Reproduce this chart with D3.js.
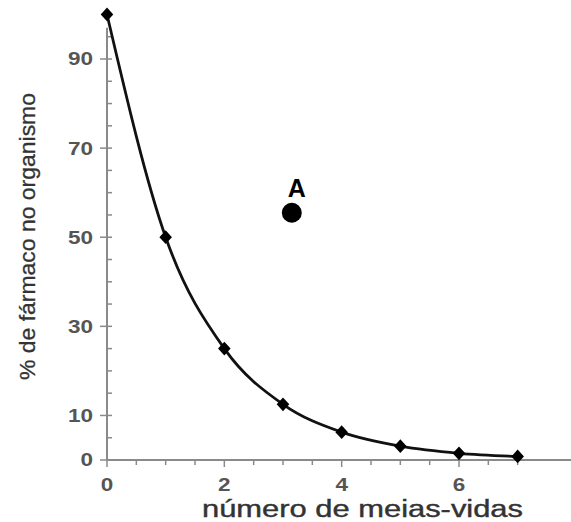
<!DOCTYPE html>
<html><head><meta charset="utf-8">
<script src="https://cdn.jsdelivr.net/npm/d3@7"></script>
<style>body{margin:0;background:#fff}svg{display:block}</style>
</head><body>
<svg id="c" width="571" height="522"></svg>
<script>
const halfLives = [0, 1, 2, 3, 4, 5, 6, 7];
const percentRemaining = [100, 50, 25, 12.5, 6.25, 3.1, 1.5, 0.8];
const xTickLabels = [0, 2, 4, 6];
const yTickLabels = [0, 10, 30, 50, 70, 90];
const pointA = {x: 3.15, y: 55.5, label: "A"};
const xTitle = "número de meias-vidas";
const yTitle = "% de fármaco no organismo";

const svg = d3.select("#c");
const x = d3.scaleLinear().domain([0, 6]).range([107, 459]);
const y = d3.scaleLinear().domain([0, 90]).range([460, 59]);
const axisColor = "#8a8a8a";
const font = "Liberation Sans, Arial, sans-serif";

// axis lines
svg.append("line").attr("x1", x(0)).attr("x2", 571).attr("y1", y(0)).attr("y2", y(0))
  .attr("stroke", axisColor).attr("stroke-width", 2);
svg.append("line").attr("x1", x(0)).attr("x2", x(0)).attr("y1", y(0)).attr("y2", y(97))
  .attr("stroke", axisColor).attr("stroke-width", 2);

// y ticks
const yMinor = d3.range(5, 100, 5);
svg.selectAll(".ym").data(yMinor).enter().append("line")
  .attr("x1", d => yTickLabels.includes(d) ? x(0) - 7 : x(0))
  .attr("x2", x(0) + 5).attr("y1", d => y(d)).attr("y2", d => y(d))
  .attr("stroke", axisColor).attr("stroke-width", 1.5);
svg.append("line").attr("x1", x(0) - 7).attr("x2", x(0)).attr("y1", y(0)).attr("y2", y(0))
  .attr("stroke", axisColor).attr("stroke-width", 1.5);
svg.selectAll(".yl").data(yTickLabels).enter().append("text")
  .attr("transform", d => `translate(${x(0) - 14},${y(d)}) scale(1.25,1)`).attr("dy", "0.36em")
  .attr("text-anchor", "end").attr("font-family", font).attr("font-weight", "bold")
  .attr("font-size", 18).attr("fill", "#555").text(d => d);

// x ticks
const xMinor = d3.range(0, 7.5, 0.5);
svg.selectAll(".xm").data(xMinor).enter().append("line")
  .attr("x1", d => x(d)).attr("x2", d => x(d))
  .attr("y1", y(0)).attr("y2", d => xTickLabels.includes(d) ? y(0) + 7 : y(0) + 5)
  .attr("stroke", axisColor).attr("stroke-width", 1.5);
svg.selectAll(".xl").data(xTickLabels).enter().append("text")
  .attr("transform", d => `translate(${x(d)},485) scale(1.25,1)`).attr("dy", "0.36em")
  .attr("text-anchor", "middle").attr("font-family", font).attr("font-weight", "bold")
  .attr("font-size", 18).attr("fill", "#555").text(d => d);

// titles
svg.append("text").attr("x", 202).attr("y", 517)
  .attr("textLength", 321).attr("lengthAdjust", "spacingAndGlyphs")
  .attr("font-family", font).attr("font-size", 23).attr("fill", "#333")
  .attr("stroke", "#333").attr("stroke-width", 0.4).text(xTitle);
svg.append("text").attr("transform", "translate(35,380) rotate(-90)")
  .attr("textLength", 287).attr("lengthAdjust", "spacingAndGlyphs")
  .attr("font-family", font).attr("font-size", 22).attr("fill", "#333")
  .attr("stroke", "#333").attr("stroke-width", 0.3).text(yTitle);

// curve
const pts = halfLives.map((d, i) => [d, percentRemaining[i]]);
const line = d3.line().x(d => x(d[0])).y(d => y(d[1])).curve(d3.curveMonotoneX);
svg.append("path").datum(pts).attr("d", line).attr("fill", "none")
  .attr("stroke", "#111").attr("stroke-width", 2.8);

// markers
const sym = d3.symbol().type(d3.symbolDiamond).size(75);
svg.selectAll(".mk").data(pts).enter().append("path")
  .attr("d", sym).attr("transform", d => `translate(${x(d[0])},${y(d[1])}) scale(1.35,0.85)`)
  .attr("fill", "#000");

// point A
svg.append("circle").attr("cx", x(pointA.x)).attr("cy", y(pointA.y)).attr("r", 10).attr("fill", "#000");
svg.append("text").attr("x", x(pointA.x) + 5).attr("y", y(pointA.y) - 16)
  .attr("text-anchor", "middle").attr("font-family", font).attr("font-weight", "bold")
  .attr("font-size", 25).attr("fill", "#000").text(pointA.label);
</script>
</body></html>
